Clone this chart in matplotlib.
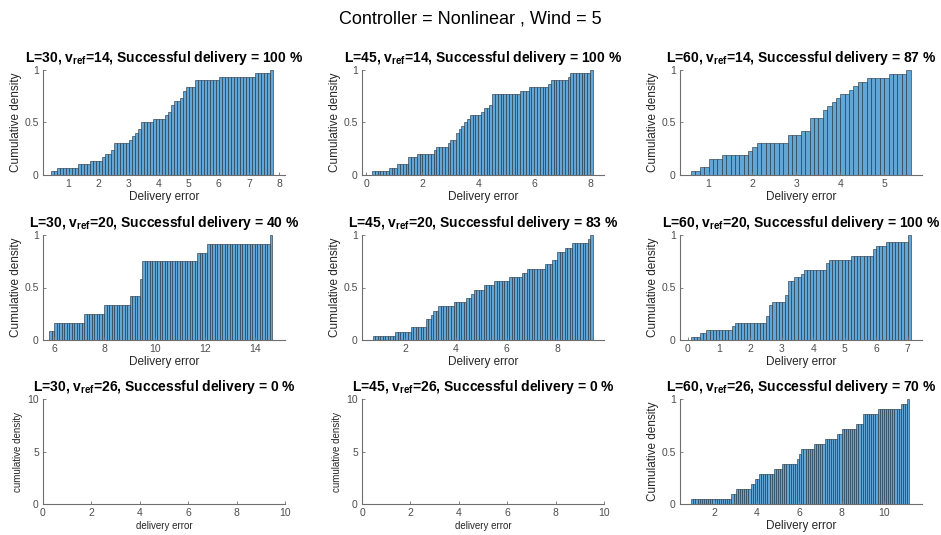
import numpy as np
import matplotlib
matplotlib.use("Agg")
import matplotlib.pyplot as plt

plt.rcParams['font.family'] = ['Liberation Sans', 'DejaVu Sans']
plt.rcParams['mathtext.fontset'] = 'custom'
plt.rcParams['mathtext.rm'] = 'Liberation Sans'
plt.rcParams['mathtext.bf'] = 'Liberation Sans:bold'

# delivery errors (one value per run)
err_30_14 = [0.48, 0.68, 1.3, 1.7, 2.1, 2.2, 2.45, 2.55, 2.55, 3.0, 3.1, 3.2, 3.35, 3.45, 3.45,
             3.85, 4.2, 4.3, 4.45, 4.45, 4.55, 4.7, 4.8, 4.8, 4.9, 5.2, 5.2, 6.0, 7.25, 7.75]
err_45_14 = [0.2, 0.82, 1.12, 1.5, 1.5, 1.8, 2.4, 2.5, 2.9, 3.05, 3.2, 3.2, 3.3, 3.4, 3.5,
             3.6, 3.75, 4.1, 4.25, 4.4, 4.55, 4.55, 4.55, 5.5, 5.85, 6.55, 6.62, 7.2, 7.3, 8.1]
err_60_14 = [0.6, 0.81, 1.0, 1.0, 1.3, 1.91, 2.01, 2.1, 2.82, 2.82, 3.13, 3.3, 3.39,
             3.39, 3.6, 3.6, 3.7, 3.8, 3.9, 4.0, 4.2, 4.3, 4.49, 4.6, 5.1, 5.55]
err_30_20 = [5.84, 6.04, 7.2, 8.0, 9.0, 9.4, 9.4, 9.5, 9.5, 11.75, 12.15, 14.65]
err_45_20 = [0.71, 1.6, 2.2, 2.8, 2.88, 3.0, 3.19, 3.39, 3.9, 4.4, 4.6, 4.7, 5.1,
             5.5, 6.1, 6.6, 6.8, 7.58, 7.8, 8.0, 8.0, 8.3, 8.6, 9.2, 9.35]
err_60_20 = [0.1, 0.41, 0.63, 1.42, 1.53, 2.52, 2.52, 2.6, 2.6, 2.6, 2.7, 3.12, 3.12, 3.2, 3.2,
             3.2, 3.2, 3.42, 3.61, 3.77, 4.4, 4.4, 4.5, 5.2, 5.9, 5.9, 6.0, 6.31, 7.05, 7.05]
err_30_26 = []
err_45_26 = []
err_60_26 = [0.9, 2.82, 3.03, 3.72, 3.92, 4.13, 4.82, 5.23, 5.9, 6.0, 6.13, 6.76, 7.24,
             7.87, 8.07, 8.7, 9.08, 9.08, 9.76, 10.87, 11.18]

lengths = [30, 45, 60]
vrefs = [14, 20, 26]
success = [[100, 100, 87], [40, 83, 100], [0, 0, 70]]
errors = [[err_30_14, err_45_14, err_60_14],
          [err_30_20, err_45_20, err_60_20],
          [err_30_26, err_45_26, err_60_26]]
xlims = [[(0.15, 8.2), (-0.16, 8.5), (0.35, 5.86)],
         [(5.55, 15.2), (0.28, 9.85), (-0.24, 7.46)],
         [(0, 10), (0, 10), (0.37, 11.8)]]
xticks = [[range(1, 9), range(0, 9, 2), range(1, 6)],
          [range(6, 15, 2), range(2, 9, 2), range(0, 8)],
          [range(0, 11, 2), range(0, 11, 2), range(2, 11, 2)]]

BAR = '#62a6d6'
AXC = '#6e6e6e'

fig = plt.figure(figsize=(9.41, 5.35), dpi=100)
fig.text(0.5, 0.964, 'Controller = Nonlinear , Wind = 5', ha='center', va='center', fontsize=13)

lefts = [43 / 941, 362 / 941, 680 / 941]
bottoms = [1 - 175 / 535, 1 - 340 / 535, 1 - 504 / 535]
w, h = 242 / 941, 105 / 535

for r in range(3):
    for c in range(3):
        ax = fig.add_axes([lefts[c], bottoms[r], w, h])
        data = errors[r][c]
        if len(data) > 0:
            lo = np.floor(min(data) * 10) / 10
            hi = np.ceil(max(data) * 10) / 10
            edges = np.round(np.arange(lo, hi + 0.05, 0.1), 2)
            ax.hist(data, bins=edges, cumulative=True, density=True,
                    color=BAR, edgecolor='#1c2a38', linewidth=0.4)
            ax.set_ylim(0, 1)
            ax.set_yticks([0, 0.5, 1])
            ax.set_yticklabels(['0', '0.5', '1'])
            ax.set_xlabel('Delivery error', fontsize=8.5, labelpad=1, color='#262626')
            ax.set_ylabel('Cumulative density', fontsize=8.5, labelpad=2, color='#262626')
        else:
            ax.set_ylim(0, 10)
            ax.set_yticks([0, 5, 10])
            ax.set_xlabel('delivery error', fontsize=7, labelpad=2, color='#262626')
            ax.set_ylabel('cumulative density', fontsize=7, labelpad=3, color='#262626')
        ax.set_xlim(*xlims[r][c])
        ax.set_xticks(list(xticks[r][c]))
        ax.set_title(r'L=%d, v$_{\mathbf{ref}}$=%d, Successful delivery = %d %%'
                     % (lengths[c], vrefs[r], success[r][c]),
                     fontsize=10, fontweight='bold', pad=6)
        for s in ['top', 'right']:
            ax.spines[s].set_visible(False)
        for s in ['left', 'bottom']:
            ax.spines[s].set_color(AXC)
            ax.spines[s].set_linewidth(0.8)
        ax.tick_params(direction='in', length=2.5, width=0.6, colors=AXC,
                       labelsize=7.5, labelcolor='#4d4d4d', pad=3)

plt.savefig('out.png', dpi=100)
